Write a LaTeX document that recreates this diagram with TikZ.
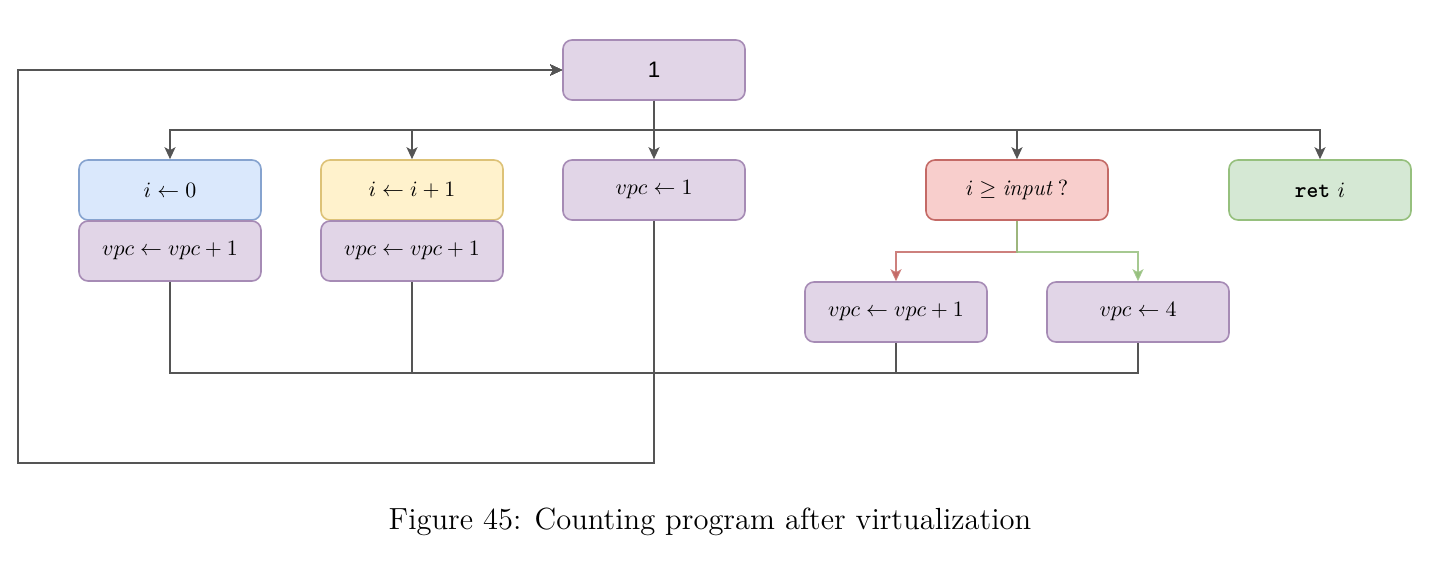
\documentclass[tikz,border=0pt]{standalone}
\usepackage{fontspec}
\usepackage{graphicx}
\setsansfont{Liberation Sans}
\usetikzlibrary{arrows.meta}
\definecolor{purF}{HTML}{E1D5E7}\definecolor{purD}{HTML}{A68BB5}
\definecolor{bluF}{HTML}{DAE8FC}\definecolor{bluD}{HTML}{86A3CF}
\definecolor{yelF}{HTML}{FFF2CC}\definecolor{yelD}{HTML}{DDC277}
\definecolor{redF}{HTML}{F8CECC}\definecolor{redD}{HTML}{C46A66}
\definecolor{grnF}{HTML}{D5E8D4}\definecolor{grnD}{HTML}{96C07E}
\definecolor{edgeC}{HTML}{555555}
\begin{document}
\begin{tikzpicture}[x=0.5pt,y=-0.5pt,
  box/.style={rounded corners=4.5pt, minimum width=91pt, minimum height=30pt, line width=0.8pt, inner sep=0pt, font=\fontsize{11.2}{13}\selectfont},
  pur/.style={box, fill=purF, draw=purD},
  blu/.style={box, fill=bluF, draw=bluD},
  yel/.style={box, fill=yelF, draw=yelD},
  rd/.style={box, fill=redF, draw=redD},
  grn/.style={box, fill=grnF, draw=grnD},
  link/.style={draw=edgeC, line width=1pt},
  arr/.style={link, -{Stealth[length=6pt,width=5.5pt,inset=1.5pt]}},
  carr/.style={line width=1pt, draw opacity=0.85, -{Stealth[length=6pt,width=5.5pt,inset=1.5pt]}}]
\useasboundingbox (0,0) rectangle (1432,563);
% nodes
\node[pur] (n1) at (654,70) {\sffamily 1};
\node[blu] (a) at (170,190) {$i \leftarrow 0$};
\node[pur] (a2) at (170,251) {$vpc \leftarrow vpc + 1$};
\node[yel] (b) at (412,190) {$i \leftarrow i + 1$};
\node[pur] (b2) at (412,251) {$vpc \leftarrow vpc + 1$};
\node[pur] (v) at (654,190) {$vpc \leftarrow 1$};
\node[rd] (c) at (1017,190) {$i \geq \mathit{input}\;?$};
\node[grn] (r) at (1320,190) {{\ttfamily\bfseries ret} $i$};
\node[pur] (c1) at (896,312) {$vpc \leftarrow vpc + 1$};
\node[pur] (c2) at (1138,312) {$vpc \leftarrow 4$};
% waypoints
\coordinate (j) at (654,373);
\coordinate (lb) at (654,463);
\coordinate (ll) at (18,463);
% top fan-out
\foreach \t in {a,b,v,c,r}
  \draw[arr] (n1.south) -- ++(0,29) -| (\t.north);
% branch
\draw[carr, draw=redD] (c.south) -- ++(0,31) -| (c1.north);
\draw[carr, draw=grnD] (c.south) -- ++(0,31) -| (c2.north);
% loop back
\foreach \s in {a2,b2,c1,c2}
  \draw[arr] (\s.south) |- (j) -- (lb) -- (ll) |- (n1.west);
\draw[arr] (v.south) -- (lb) -- (ll) |- (n1.west);
% caption
\node[anchor=base, inner sep=0pt, font=\fontsize{14.9}{18}\selectfont] (cap) at (710,529) {\scalebox{1.026}{Figure 45: Counting program after virtualization}};
\end{tikzpicture}
\end{document}
